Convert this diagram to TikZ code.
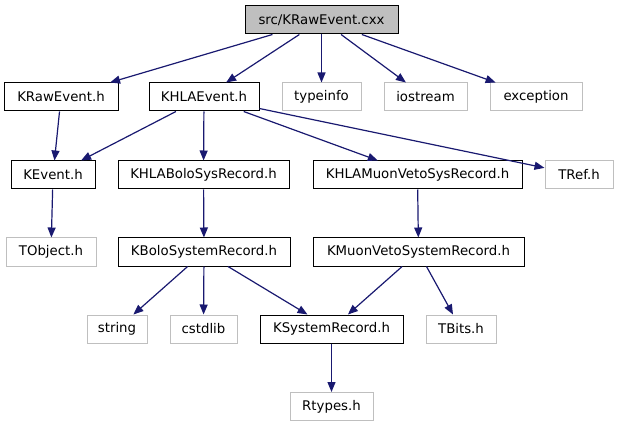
\documentclass[tikz,border=0pt]{standalone}
\usepackage{fontspec}
\setmainfont{DejaVu Sans}
\usetikzlibrary{arrows.meta}
\definecolor{edgeblue}{HTML}{191970}
\definecolor{lightframe}{HTML}{BFBFBF}
\tikzset{
  box/.style={draw=black, line width=1pt, inner sep=0pt, minimum height=28pt,
    font=\fontsize{13.3}{16}\selectfont, text=black},
  sysbox/.style={box, draw=lightframe},
  rootbox/.style={box, fill=lightframe, draw=black},
  edge/.style={draw=edgeblue, line width=1.2pt, -{Triangle[length=10pt,width=8pt]}}
}
\begin{document}
\begin{tikzpicture}[x=1pt,y=-1pt]
\useasboundingbox (0,0) rectangle (617,427);
\node[rootbox, minimum width=153pt] (src) at (321.5,20) {src/KRawEvent.cxx};
\node[box, minimum width=114pt] (krh) at (61,97) {KRawEvent.h};
\node[box, minimum width=110pt] (khla) at (204,97) {KHLAEvent.h};
\node[sysbox, minimum width=79pt] (typeinfo) at (321.5,97) {typeinfo};
\node[sysbox, minimum width=83pt] (iostream) at (425.5,97) {iostream};
\node[sysbox, minimum width=92pt] (exception) at (536,97) {exception};
\node[box, minimum width=84pt] (kev) at (53,175) {KEvent.h};
\node[box, minimum width=171pt] (khlabolo) at (203.5,175) {KHLABoloSysRecord.h};
\node[box, minimum width=209pt] (khlamuon) at (417.5,175) {KHLAMuonVetoSysRecord.h};
\node[sysbox, minimum width=68pt] (tref) at (579,175) {TRef.h};
\node[sysbox, minimum width=90pt] (tobj) at (51,252) {TObject.h};
\node[box, minimum width=172pt] (kbolo) at (204,252) {KBoloSystemRecord.h};
\node[box, minimum width=211pt] (kmuon) at (418.5,252) {KMuonVetoSystemRecord.h};
\node[sysbox, minimum width=60pt] (string) at (117,329) {string};
\node[sysbox, minimum width=67pt] (cstdlib) at (203.5,329) {cstdlib};
\node[box, minimum width=143pt] (ksys) at (331.5,329) {KSystemRecord.h};
\node[sysbox, minimum width=70pt] (tbits) at (461,329) {TBits.h};
\node[sysbox, minimum width=83pt] (rtypes) at (331.5,406.5) {Rtypes.h};
\path[edge] (src) -- (krh);
\path[edge] (src) -- (khla);
\path[edge] (src) -- (typeinfo);
\path[edge] (src) -- (iostream);
\path[edge] (src) -- (exception);
\path[edge] (krh) -- (kev);
\path[edge] (khla) -- (kev);
\path[edge] (khla) -- (khlabolo);
\path[edge] (khla) -- (khlamuon);
\path[edge] (khla) -- (tref);
\path[edge] (kev) -- (tobj);
\path[edge] (khlabolo) -- (kbolo);
\path[edge] (khlamuon) -- (kmuon);
\path[edge] (kbolo) -- (string);
\path[edge] (kbolo) -- (cstdlib);
\path[edge] (kbolo) -- (ksys);
\path[edge] (kmuon) -- (ksys);
\path[edge] (kmuon) -- (tbits);
\path[edge] (ksys) -- (rtypes);
\end{tikzpicture}
\end{document}
